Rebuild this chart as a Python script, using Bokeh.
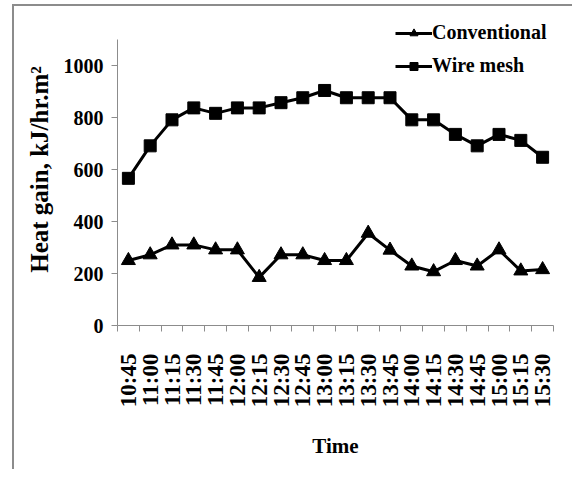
import numpy as np
from bokeh.plotting import figure
from bokeh.models import FixedTicker, Range1d, Legend, LegendItem, ColumnDataSource
from bokeh.embed import file_html
from bokeh.resources import INLINE

times = ["10:45", "11:00", "11:15", "11:30", "11:45", "12:00", "12:15", "12:30",
         "12:45", "13:00", "13:15", "13:30", "13:45", "14:00", "14:15", "14:30",
         "14:45", "15:00", "15:15", "15:30"]
conventional = [250, 272, 310, 310, 291, 291, 185, 272, 272, 250,
                250, 355, 290, 229, 207, 250, 229, 291, 210, 215]
wire_mesh = [566, 691, 791, 837, 816, 837, 837, 857, 876, 904,
             876, 876, 876, 791, 791, 735, 691, 735, 712, 647]
y_ticks = [0, 200, 400, 600, 800, 1000]

n = len(times)
xc = np.arange(n) + 0.5
src = ColumnDataSource(dict(x=xc, conv=conventional, wire=wire_mesh))

FONT = "Liberation Serif"
GRAY = "#8c8c8c"

p = figure(width=560, height=465, output_backend="svg", toolbar_location=None,
           x_range=Range1d(0, n), y_range=Range1d(0, 1200),
           min_border_left=103, min_border_right=21, min_border_top=7,
           min_border_bottom=146)
p.styles = {"margin-left": "12px", "margin-top": "4px",
            "border-left": "2px solid " + GRAY,
            "border-top": "2px solid " + GRAY}
p.outline_line_color = None
p.xgrid.visible = False
p.ygrid.visible = False
p.background_fill_color = "white"
p.border_fill_color = "white"

# x axis
xa = p.xaxis[0]
xa.ticker = FixedTicker(ticks=list(xc), minor_ticks=list(range(n + 1)))
xa.major_label_overrides = {float(x): t for x, t in zip(xc, times)}
xa.major_tick_line_color = None
xa.major_tick_out = 0
xa.major_tick_in = 0
xa.minor_tick_line_color = GRAY
xa.minor_tick_out = 6
xa.minor_tick_in = 0
xa.axis_line_color = GRAY
xa.major_label_orientation = np.pi / 2
xa.major_label_standoff = 22
xa.major_label_text_font = FONT
xa.major_label_text_font_style = "bold"
xa.major_label_text_font_size = "23px"
xa.major_label_text_color = "black"
xa.axis_label = "Time"
xa.axis_label_text_font = FONT
xa.axis_label_text_font_style = "bold"
xa.axis_label_text_font_size = "21px"
xa.axis_label_text_color = "black"
xa.axis_label_standoff = 24

# y axis
ya = p.yaxis[0]
ya.ticker = FixedTicker(ticks=y_ticks, minor_ticks=[])
ya.bounds = (0, 1100)
ya.axis_line_color = GRAY
ya.major_tick_line_color = GRAY
ya.major_tick_out = 6
ya.major_tick_in = 0
ya.minor_tick_line_color = None
ya.major_label_standoff = 8
ya.major_label_text_font = FONT
ya.major_label_text_font_style = "bold"
ya.major_label_text_font_size = "20px"
ya.major_label_text_color = "black"
ya.axis_label = "Heat gain, kJ/hr.m\u00b2"
ya.axis_label_text_font = FONT
ya.axis_label_text_font_style = "bold"
ya.axis_label_text_font_size = "25px"
ya.axis_label_text_color = "black"
ya.axis_label_standoff = 8

l1 = p.line("x", "conv", source=src, line_color="black", line_width=3)
m1 = p.scatter("x", "conv", source=src, marker="triangle", size=14,
               fill_color="black", line_color="black")
l2 = p.line("x", "wire", source=src, line_color="black", line_width=3)
m2 = p.scatter("x", "wire", source=src, marker="square", size=12,
               fill_color="black", line_color="black")

legend = Legend(items=[LegendItem(label="Conventional", renderers=[l1, m1]),
                       LegendItem(label="Wire mesh", renderers=[l2, m2])],
                location=(278, 248), orientation="vertical")
legend.border_line_color = None
legend.background_fill_alpha = 0
legend.padding = 0
legend.margin = 0
legend.spacing = 10
legend.glyph_width = 37
legend.glyph_height = 20
legend.label_height = 20
legend.label_standoff = 0
legend.label_text_font = FONT
legend.label_text_font_style = "bold"
legend.label_text_font_size = "20px"
legend.label_text_color = "black"
p.add_layout(legend, "center")

open("out.html", "w").write(file_html(p, INLINE))
